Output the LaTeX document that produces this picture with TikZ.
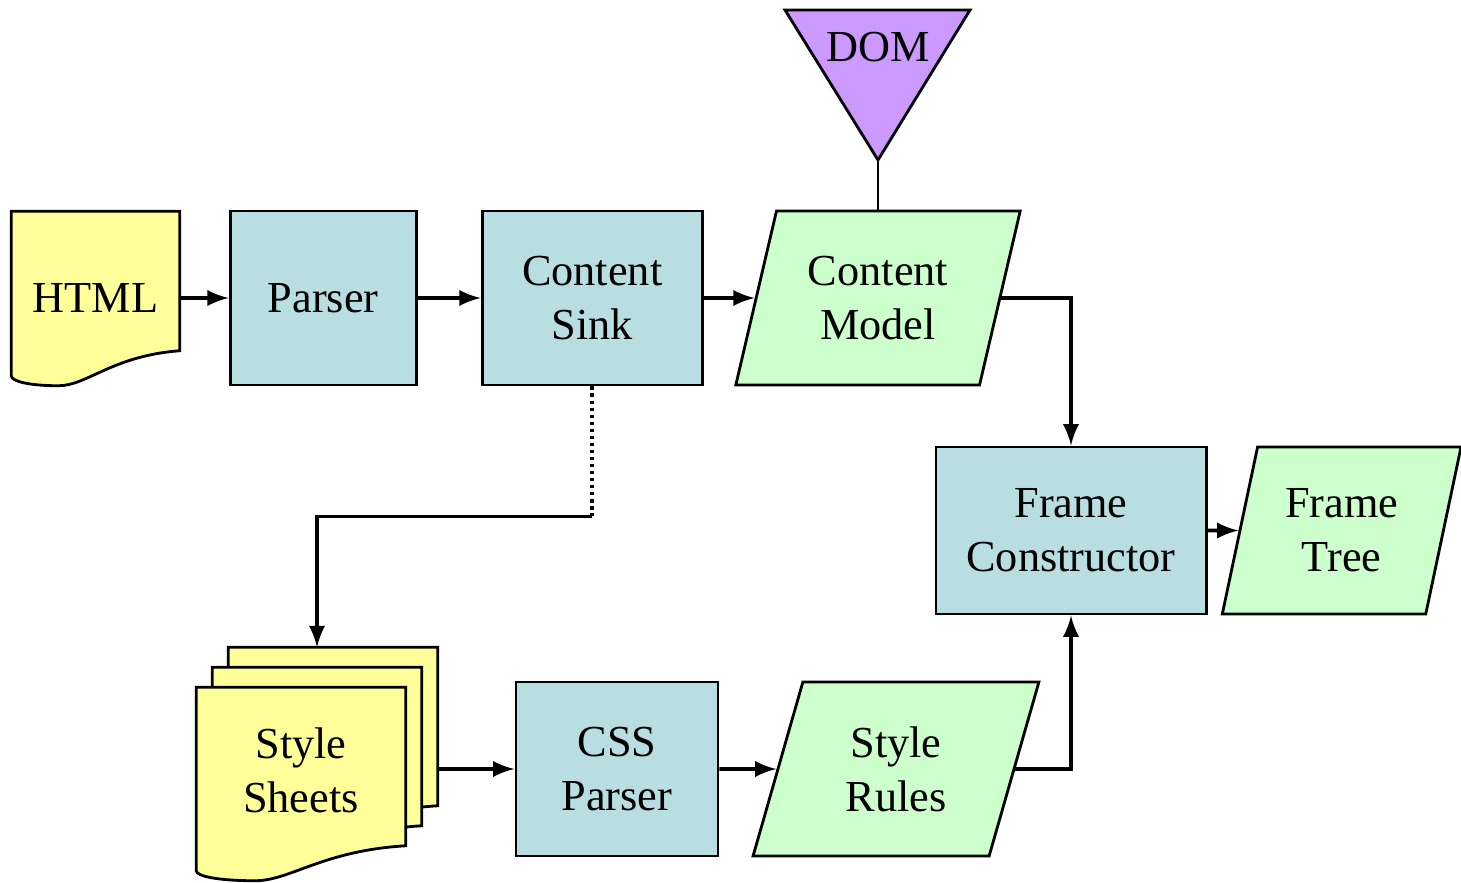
\documentclass[tikz,border=0pt]{standalone}
\usepackage{fontspec}
\setmainfont{Liberation Serif}
\usetikzlibrary{positioning,shapes,arrows,backgrounds,calc}

\definecolor{docyellow}{RGB}{255,255,153}
\definecolor{procblue}{RGB}{184,222,225}
\definecolor{datagreen}{RGB}{204,255,204}
\definecolor{dompurple}{RGB}{204,153,255}

\tikzset{
  procbox/.style={draw=black, fill=procblue, line width=0.8pt, minimum height=1.74cm, align=center},
  databox/.style={trapezium, trapezium stretches=true, trapezium left angle=73, trapezium right angle=107,
    draw=black, fill=datagreen, line width=0.8pt, minimum height=1.74cm, align=center},
  docnode/.style={inner sep=0pt, align=center},
  docline/.style={draw=black, fill=docyellow, line width=0.8pt},
  flow/.style={->, line width=1.1pt}
}

% a page with a wavy bottom edge behind a node
\newcommand{\docshape}[2]{%
  \begin{scope}[on background layer]
    \draw[docline] (#1.north west) -- (#1.north east)
      -- ($(#1.south east)+(0,#2-35)$)
      .. controls ($(#1.south west)!0.6!(#1.south east)+(0,#2-30)$) and ($(#1.south west)!0.45!(#1.south east)+(0,#2)$)
      .. ($(#1.south west)!0.28!(#1.south east)+(0,#2)$)
      .. controls ($(#1.south west)!0.12!(#1.south east)+(0,#2)$) and ($(#1.south west)+(0,#2-4)$)
      .. ($(#1.south west)+(0,#2-10)$) -- cycle;
  \end{scope}}

\begin{document}
\begin{tikzpicture}[x=0.01cm, y=-0.01cm, >=latex, font=\fontsize{12.6}{15.4}\selectfont]

		\useasboundingbox (0,0) rectangle (1461,882);

		% the content pipeline
		\node[docnode, minimum width=1.67cm, minimum height=1.72cm] (html) at (95.5,298) {HTML};
		\docshape{html}{1}
		\node[procbox, minimum width=1.86cm, right=0.49cm of html] (parser) {Parser};
		\node[procbox, minimum width=2.2cm, right=0.63cm of parser] (sink) {Content\\Sink};
		\node[databox, minimum width=2.85cm, right=0.51cm of sink] (model) {Content\\Model};

		% the dom on top of the content model
		\node (dom) at (878,47) {DOM};
		\coordinate (domtip) at (878,160);
		\begin{scope}[on background layer]
			\draw[draw=black, fill=dompurple, line width=0.8pt] (785,10) -- (970,10) -- (domtip) -- cycle;
		\end{scope}
		\draw[line width=0.8pt] (domtip) -- (domtip |- model.north);

		% frame construction
		\node[procbox, minimum width=2.7cm, minimum height=1.67cm] (fc) at (1071,530.5) {Frame\\Constructor};
		\node[databox, minimum width=2.39cm, minimum height=1.67cm, trapezium left angle=75, trapezium right angle=105,
			right=0.31cm of fc] (ft) {Frame\\Tree};

		% the stack of style sheets and the css path
		\node[docnode, minimum width=2.08cm, minimum height=1.64cm] (sheets3) at (333,730) {};
		\node[docnode, minimum width=2.08cm, minimum height=1.64cm] (sheets2) at (317,750) {};
		\node[docnode, minimum width=2.08cm, minimum height=1.64cm] (sheets) at (301,770) {Style\\Sheets};
		\docshape{sheets3}{28}
		\docshape{sheets2}{28}
		\docshape{sheets}{28}
		\node[procbox, minimum width=2.02cm] (css) at (617,769) {CSS\\Parser};
		\node[databox, minimum width=2.86cm, right=0.57cm of css] (rules) {Style\\Rules};

		% the flows
		\draw[flow] (html) -- (parser);
		\draw[flow] (parser) -- (sink);
		\draw[flow] (sink) -- (model);
		\draw[flow] (model.east) -| (fc.north);
		\draw[flow] (fc) -- (ft);
		\coordinate (bend) at ($(sink.south)+(0,130)$);
		\draw[line width=1pt, densely dotted] (sink.south) -- (bend);
		\draw[flow] (bend) -| (sheets2.north |- sheets3.north);
		\draw[flow] (sheets3.east |- css.west) -- (css.west);
		\draw[flow] (css) -- (rules);
		\draw[flow] (rules.east) -| (fc.south);

	\end{tikzpicture}
\end{document}
